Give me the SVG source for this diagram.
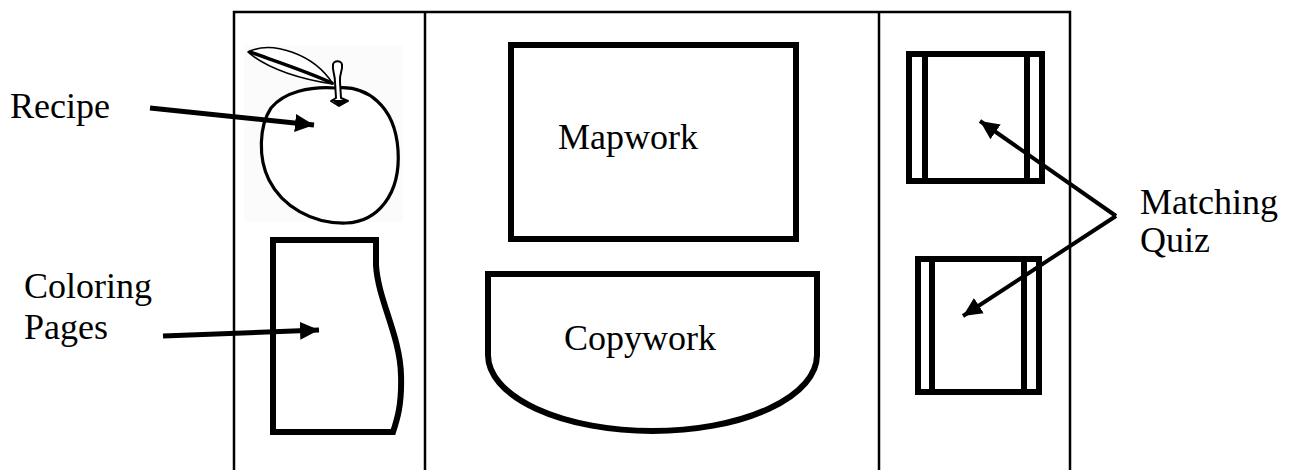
<svg xmlns="http://www.w3.org/2000/svg" width="1293" height="470" viewBox="0 0 1293 470">
  <style>
    .label { font-family: "Liberation Serif", "Times New Roman", serif; font-size: 36px; fill: #000; }
    .frame { fill: none; stroke: #000; stroke-width: 2.5; }
    .box { fill: none; stroke: #000; stroke-width: 6; stroke-linejoin: miter; }
    .bar { stroke: #000; stroke-width: 6; }
    .ink { fill: #fff; stroke: #000; stroke-linejoin: round; stroke-linecap: round; }
    .arrow { fill: none; stroke: #000; stroke-width: 5; marker-end: url(#head); }
    .arrow-thin { fill: none; stroke: #000; stroke-width: 4; marker-end: url(#head); }
  </style>
  <defs>
    <marker id="head" markerUnits="userSpaceOnUse" markerWidth="22" markerHeight="20" refX="19" refY="10" orient="auto">
      <path d="M0,1 L19,10 L0,19 Z" fill="#000"/>
    </marker>
  </defs>

  <rect width="1293" height="470" fill="#fff"/>

  <!-- folder frame: top edge and panel dividers -->
  <g id="frame">
    <path class="frame" d="M234,470 V12 H1070 V470"/>
    <line class="frame" x1="425" y1="12" x2="425" y2="470"/>
    <line class="frame" x1="879" y1="12" x2="879" y2="470"/>
  </g>

  <!-- recipe card: apple drawing -->
  <g id="recipe">
    <rect x="244" y="46" width="159" height="176" fill="#fbfbfb"/>
    <path class="ink" stroke-width="1.6" d="M248,52 C272,40 314,54 333,84 C305,80 268,70 248,52 Z"/>
    <path fill="none" stroke="#000" stroke-width="3.5" stroke-linecap="round" d="M250,52 C275,61 306,71 332,83"/>
    <path class="ink" stroke-width="3.2" d="M336,88 C366,85 395,105 398,150 C401,195 377,222 346,223 C312,224 282,206 269,180 C258,158 259,126 271,108 C284,92 310,86 336,88 Z"/>
    <path class="ink" stroke-width="2" d="M333,65 C333,60 342,60 342,65 C343,70 339,74 340,82 L341,98 L348,101 L339,106 L331,101 L336,98 L335,82 C335,74 332,70 333,65 Z"/>
    <path d="M332,100 L348,100 L339,106 Z" fill="#000"/>
  </g>

  <!-- coloring pages -->
  <g id="coloring-pages">
    <path class="box" d="M273,240 H376 V265 C378,300 400,335 401,375 C402,405 397,420 393,432 H273 Z"/>
  </g>

  <!-- mapwork -->
  <g id="mapwork">
    <rect class="box" x="511" y="45" width="285" height="194"/>
    <text class="label" x="558" y="149">Mapwork</text>
  </g>

  <!-- copywork -->
  <g id="copywork">
    <path class="box" d="M488,274 H817 V355 A164.5,76 0 0 1 488,355 Z"/>
    <text class="label" x="564" y="350">Copywork</text>
  </g>

  <!-- matching quiz cards -->
  <g id="quiz-1">
    <rect class="box" x="909" y="54" width="133" height="127"/>
    <line class="bar" x1="925" y1="54" x2="925" y2="181"/>
    <line class="bar" x1="1027" y1="54" x2="1027" y2="181"/>
  </g>
  <g id="quiz-2">
    <rect class="box" x="918" y="259" width="121" height="133"/>
    <line class="bar" x1="932" y1="259" x2="932" y2="392"/>
    <line class="bar" x1="1024" y1="259" x2="1024" y2="392"/>
  </g>

  <!-- outside labels -->
  <g id="labels">
    <text class="label" x="10" y="118">Recipe</text>
    <text class="label" x="24" y="298">Coloring</text>
    <text class="label" x="24" y="339">Pages</text>
    <text class="label" x="1140" y="214">Matching</text>
    <text class="label" x="1140" y="252">Quiz</text>
  </g>

  <!-- pointers -->
  <g id="connectors">
    <line class="arrow" x1="150" y1="108" x2="314" y2="125"/>
    <line class="arrow" x1="163" y1="336" x2="319" y2="330"/>
    <polyline class="arrow-thin" points="1116,216 980,121"/>
    <polyline class="arrow-thin" points="1116,216 963,316"/>
  </g>
</svg>
